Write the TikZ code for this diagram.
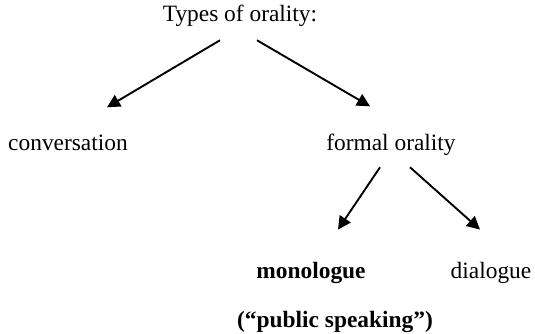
\documentclass[tikz,border=0pt]{standalone}
\usepackage{fontspec}
\setmainfont{Liberation Serif}
\usetikzlibrary{arrows.meta}

\begin{document}
\begin{tikzpicture}[x=1pt,y=-1pt,
  word/.style={inner sep=0pt,anchor=base,font=\fontsize{23.4}{28}\selectfont},
  arr/.style={line width=1.9pt,-{Triangle[length=13pt,width=13pt]}}]

\useasboundingbox (0,0) rectangle (535,334);

% === Top level ===
\node[word] (types) at (240,22) {Types of orality:};

% === Second level ===
\node[word] (conv) at (68,150) {conversation};
\node[word] (formal) at (391,150) {formal orality};

% === Third level ===
\node[word,font=\fontsize{23.4}{28}\selectfont\bfseries] (mono) at (311,278) {monologue};
\node[word] (dia) at (491,278) {dialogue};
\node[word,font=\fontsize{23.4}{28}\selectfont\bfseries] (pub) at (335,327) {(“public speaking”)};

% === Arrows ===
\draw[arr] ([xshift=-20pt,yshift=-13pt]types.south) -- ([xshift=39pt,yshift=27pt]conv.north);
\draw[arr] ([xshift=17pt,yshift=-13pt]types.south) -- ([xshift=-21pt,yshift=27pt]formal.north);
\draw[arr] ([xshift=-11pt,yshift=-12pt]formal.south) -- ([xshift=27pt,yshift=32pt]mono.north);
\draw[arr] ([xshift=19pt,yshift=-12pt]formal.south) -- ([xshift=-11pt,yshift=32pt]dia.north);

\end{tikzpicture}
\end{document}
